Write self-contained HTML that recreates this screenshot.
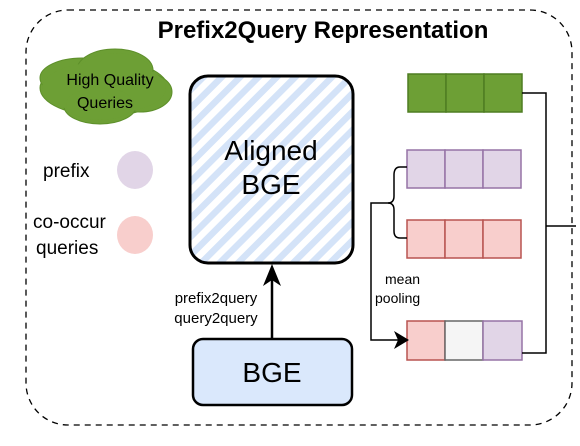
<!DOCTYPE html>
<html><head><meta charset="utf-8"><style>
html,body{margin:0;padding:0;background:#fff;width:580px;height:446px;overflow:hidden}
svg{display:block}
text{font-family:"Liberation Sans",sans-serif;fill:#000}
</style></head><body>
<svg width="580" height="446" viewBox="0 0 580 446">
<defs>
<pattern id="hatch" patternUnits="userSpaceOnUse" width="13" height="13" patternTransform="rotate(45)">
<rect width="13" height="13" fill="#fff"/>
<rect width="6.5" height="13" fill="#d4e3f8"/>
</pattern>
</defs>
<rect x="26" y="10" width="546" height="415" rx="42" fill="none" stroke="#000" stroke-width="1.3" stroke-dasharray="6,5"/>
<text x="323" y="38" font-size="24" font-weight="bold" text-anchor="middle">Prefix2Query Representation</text>
<!-- cloud -->
<g fill="#6d9f35" stroke="#5d8f2a" stroke-width="1">
<ellipse cx="104" cy="88" rx="64" ry="28"/>
<ellipse cx="82" cy="78" rx="42" ry="20"/>
<ellipse cx="115" cy="70" rx="38" ry="21"/>
<ellipse cx="140" cy="92" rx="32" ry="20"/>
<ellipse cx="100" cy="106" rx="36" ry="18"/>
</g>
<g fill="#6d9f35">
<ellipse cx="104" cy="88" rx="62" ry="26"/>
<ellipse cx="115" cy="72" rx="36" ry="19"/>
<ellipse cx="100" cy="104" rx="34" ry="16"/>
</g>
<text x="110" y="85" font-size="16" text-anchor="middle">High Quality</text>
<text x="105" y="108" font-size="16" text-anchor="middle">Queries</text>
<text x="43" y="177" font-size="19">prefix</text>
<ellipse cx="135" cy="170" rx="18" ry="19" fill="#e1d5e7"/>
<text x="33" y="228" font-size="19">co-occur</text>
<text x="36" y="254" font-size="19">queries</text>
<ellipse cx="135" cy="235" rx="18" ry="19" fill="#f8cecc"/>
<!-- aligned BGE -->
<rect x="190" y="76" width="163" height="187" rx="18" fill="url(#hatch)" stroke="#000" stroke-width="3"/>
<text x="271" y="160" font-size="28" text-anchor="middle">Aligned</text>
<text x="271" y="194" font-size="28" text-anchor="middle">BGE</text>
<!-- arrow -->
<line x1="272" y1="338" x2="272" y2="276" stroke="#000" stroke-width="2.5"/>
<polygon points="272,264 263,286 272,280 281,286" fill="#000"/>
<rect x="166" y="286" width="100" height="42" fill="#fff"/>
<text x="216" y="303" font-size="15" text-anchor="middle">prefix2query</text>
<text x="216" y="323" font-size="15" text-anchor="middle">query2query</text>
<rect x="193" y="339" width="159" height="66" rx="10" fill="#dae8fc" stroke="#000" stroke-width="2.5"/>
<text x="272" y="382" font-size="28" text-anchor="middle">BGE</text>
<!-- rows -->
<g stroke-width="1.5">
<g fill="#6d9f35" stroke="#4e7d22">
<rect x="408" y="74" width="38" height="38"/><rect x="446" y="74" width="38" height="38"/><rect x="484" y="74" width="38" height="38"/>
</g>
<g fill="#e1d5e7" stroke="#9673a6">
<rect x="407" y="150" width="38" height="38"/><rect x="445" y="150" width="38" height="38"/><rect x="483" y="150" width="38" height="38"/>
</g>
<g fill="#f8cecc" stroke="#b85450">
<rect x="407" y="220" width="38" height="38"/><rect x="445" y="220" width="38" height="38"/><rect x="483" y="220" width="38" height="38"/>
<rect x="407" y="321" width="38" height="39"/>
</g>
<rect x="445" y="321" width="38" height="39" fill="#f5f5f5" stroke="#666"/>
<rect x="483" y="321" width="39" height="39" fill="#e1d5e7" stroke="#9673a6"/>
</g>
<!-- connectors -->
<g fill="none" stroke="#000" stroke-width="1.5">
<polyline points="522,93 546,93 546,353 522,353"/>
<line x1="546" y1="226" x2="576" y2="226"/>
<path d="M407,167 H400 Q394,167 394,175 V196 Q394,203 388,203 Q394,203 394,210 V231 Q394,238 400,238 H407"/>
<polyline points="390,203 371,203 371,340 398,340"/>
</g>
<polygon points="409,340 394,331 398,340 394,349" fill="#000"/>
<text x="385" y="284" font-size="14">mean</text>
<text x="375" y="303" font-size="14">pooling</text>
</svg>
</body></html>
